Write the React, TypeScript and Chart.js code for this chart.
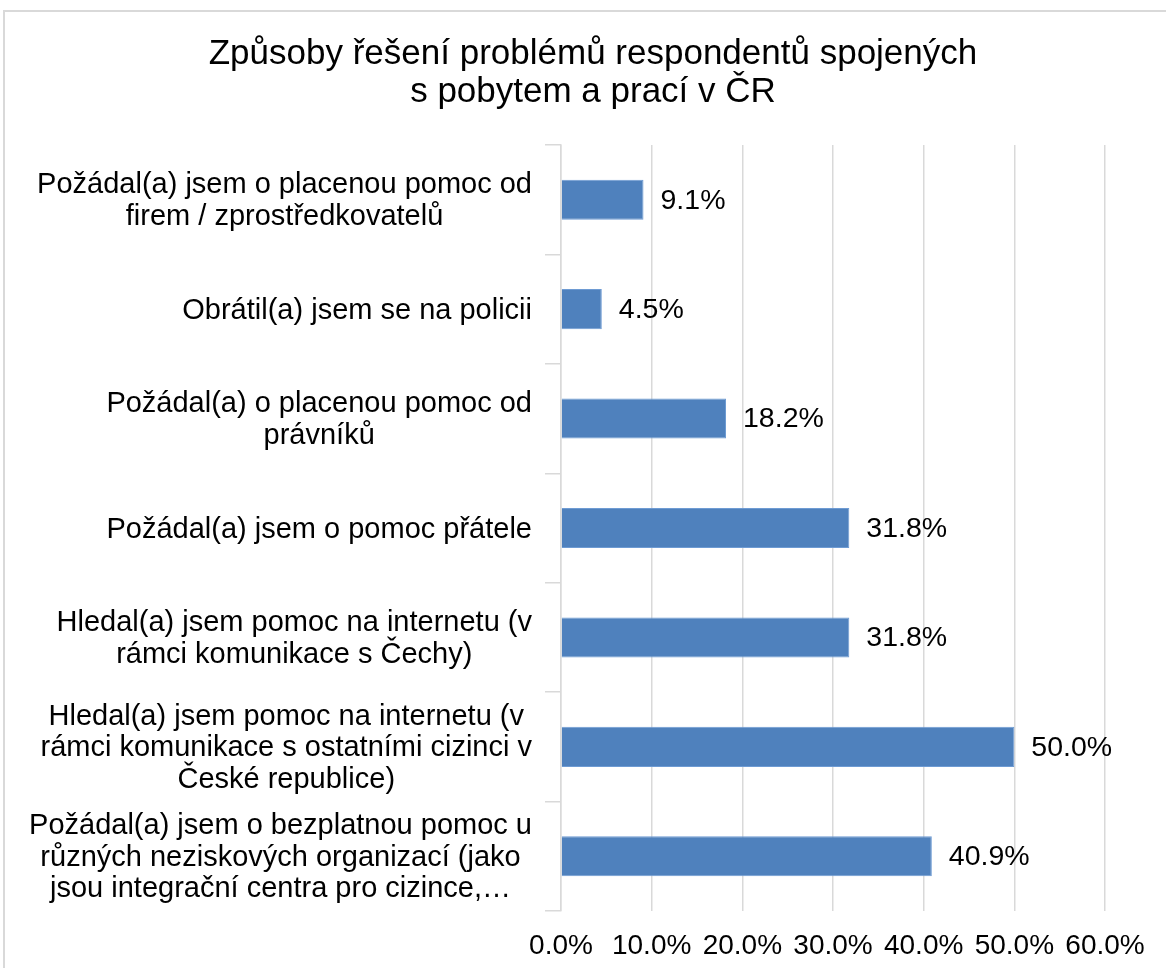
import React, { useEffect, useRef } from "react";
import { Chart, registerables } from "chart.js";

Chart.register(...registerables);

const titleLines = [
  "Způsoby řešení problémů respondentů spojených",
  "s pobytem a prací v ČR",
];

const categories: string[][] = [
  ["Požádal(a) jsem o placenou pomoc od", "firem / zprostředkovatelů"],
  ["Obrátil(a) jsem se na policii"],
  ["Požádal(a) o placenou pomoc od", "právníků"],
  ["Požádal(a) jsem o pomoc přátele"],
  ["Hledal(a) jsem pomoc na internetu (v", "rámci komunikace s Čechy)"],
  [
    "Hledal(a) jsem pomoc na internetu (v",
    "rámci komunikace s ostatními cizinci v",
    "České republice)",
  ],
  [
    "Požádal(a) jsem o bezplatnou pomoc u",
    "různých neziskových organizací (jako",
    "jsou integrační centra pro cizince,…",
  ],
];

const values = [9.1, 4.5, 18.2, 31.8, 31.8, 50.0, 40.9];

const xTicks = [0, 10, 20, 30, 40, 50, 60];

const FONT = '"Liberation Sans", Arial, "Noto Sans", sans-serif';
const TEXT = "#000000";
const GRID = "#d9d9d9";
const BAR = "#4f81bd";

const fmt = (v: number) => v.toFixed(1) + "%";

const borderPlugin = {
  id: "outerBorder",
  beforeDraw(chart: any) {
    const ctx = chart.ctx;
    ctx.save();
    ctx.fillStyle = "#ffffff";
    ctx.fillRect(0, 0, chart.width, chart.height);
    ctx.strokeStyle = GRID;
    ctx.lineWidth = 2;
    ctx.strokeRect(4, 11, 3000, 3000);
    ctx.restore();
  },
};

const yLabelPlugin = {
  id: "yLabels",
  afterDraw(chart: any) {
    const ctx = chart.ctx;
    const y = chart.scales.y;
    ctx.save();
    ctx.font = `29px ${FONT}`;
    ctx.fillStyle = TEXT;
    ctx.textAlign = "center";
    ctx.textBaseline = "middle";
    const rightEdge = y.right - 29;
    categories.forEach((lines, i) => {
      const cy = y.getPixelForValue(i) + 1.5;
      const widest = Math.max(...lines.map((l) => ctx.measureText(l).width));
      const cx = rightEdge - widest / 2;
      lines.forEach((l, j) => {
        ctx.fillText(l, cx, cy + (j - (lines.length - 1) / 2) * 31.5);
      });
    });
    ctx.restore();
  },
};

const valueLabelPlugin = {
  id: "valueLabels",
  afterDatasetsDraw(chart: any) {
    const ctx = chart.ctx;
    const meta = chart.getDatasetMeta(0);
    ctx.save();
    ctx.font = `28.5px ${FONT}`;
    ctx.fillStyle = TEXT;
    ctx.textAlign = "left";
    ctx.textBaseline = "middle";
    meta.data.forEach((bar: any, i: number) => {
      ctx.fillText(fmt(values[i]), bar.x + 17, bar.y + 1);
    });
    ctx.restore();
  },
};

export default function App() {
  const ref = useRef<HTMLCanvasElement | null>(null);

  useEffect(() => {
    if (!ref.current) return;
    const chart = new Chart(ref.current, {
      type: "bar",
      data: {
        labels: categories,
        datasets: [
          {
            data: values,
            backgroundColor: BAR,
            borderColor: "#6e9bd3",
            borderWidth: 1,
            barPercentage: 0.366,
            categoryPercentage: 1,
          },
        ],
      },
      options: {
        indexAxis: "y",
        animation: false,
        responsive: false,
        layout: { padding: { left: 81, right: 61, top: 0, bottom: 0 } },
        plugins: {
          legend: { display: false },
          tooltip: { enabled: false },
          title: {
            display: true,
            text: titleLines,
            color: TEXT,
            font: { family: FONT, size: 35, weight: "normal", lineHeight: 38 / 35 },
            padding: { top: 35, bottom: 34 },
          },
        },
        scales: {
          x: {
            min: 0,
            max: 60,
            afterBuildTicks: (s: any) => {
              s.ticks = xTicks.map((v) => ({ value: v }));
            },
            ticks: {
              callback: (v: any) => fmt(Number(v)),
              color: TEXT,
              font: { family: FONT, size: 28 },
              padding: 18,
              autoSkip: false,
              maxRotation: 0,
            },
            grid: { color: GRID, lineWidth: 1.5, drawTicks: false },
            border: { display: false },
            afterFit: (s: any) => {
              s.height = 57;
            },
          },
          y: {
            ticks: { display: false },
            grid: {
              offset: true,
              drawOnChartArea: false,
              drawTicks: true,
              tickLength: 16,
              color: GRID,
              lineWidth: 1.5,
            },
            border: { display: true, color: GRID, width: 1.5 },
            afterFit: (s: any) => {
              s.width = 480;
            },
          },
        },
      } as any,
      plugins: [borderPlugin, valueLabelPlugin, yLabelPlugin],
    });
    return () => chart.destroy();
  }, []);

  return (
    <div style={{ position: "absolute", left: 0, top: 0, width: 1166, height: 968, overflow: "hidden", background: "#fff" }}>
      <canvas ref={ref} width={1166} height={968} style={{ display: "block" }} />
    </div>
  );
}
